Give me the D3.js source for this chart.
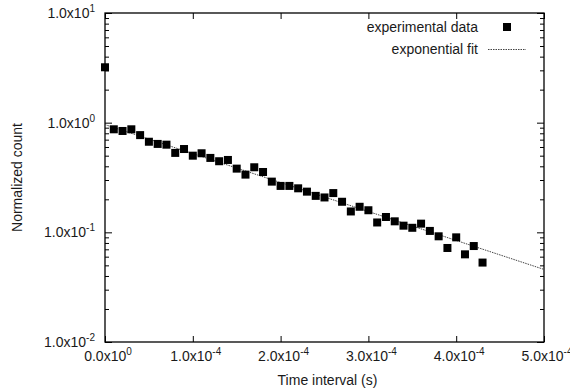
<!DOCTYPE html>
<html>
<head>
<meta charset="utf-8">
<script src="https://cdn.jsdelivr.net/npm/d3@7"></script>
<style>
  html, body { margin: 0; padding: 0; background: #fff; }
  svg { display: block; font-family: "Liberation Sans", Arial, sans-serif; }
</style>
</head>
<body>
<svg id="chart" width="570" height="389"></svg>
<script>
// ---- data ----
const timeValues = [0, 1e-5, 2e-5, 3e-5, 4e-5, 5e-5, 6e-5, 7e-5, 8e-5, 9e-5,
  1.0e-4, 1.1e-4, 1.2e-4, 1.3e-4, 1.4e-4, 1.5e-4, 1.6e-4, 1.7e-4, 1.8e-4, 1.9e-4,
  2.0e-4, 2.1e-4, 2.2e-4, 2.3e-4, 2.4e-4, 2.5e-4, 2.6e-4, 2.7e-4, 2.8e-4, 2.9e-4,
  3.0e-4, 3.1e-4, 3.2e-4, 3.3e-4, 3.4e-4, 3.5e-4, 3.6e-4, 3.7e-4, 3.8e-4, 3.9e-4,
  4.0e-4, 4.1e-4, 4.2e-4, 4.3e-4];
const countValues = [3.2, 0.87, 0.84, 0.87, 0.77, 0.67, 0.64, 0.63, 0.53, 0.575,
  0.50, 0.526, 0.477, 0.445, 0.457, 0.381, 0.336, 0.392, 0.355, 0.29,
  0.265, 0.265, 0.252, 0.235, 0.215, 0.208, 0.228, 0.19, 0.155, 0.171,
  0.159, 0.123, 0.138, 0.126, 0.115, 0.11, 0.12, 0.103, 0.092, 0.072,
  0.09, 0.063, 0.075, 0.053];
const fitTime = [0, 5e-4];
const fitCount = [0.96, 0.0459];
const xTickValues = [0, 1e-4, 2e-4, 3e-4, 4e-4, 5e-4];
const xTickMantissa = ["0.0", "1.0", "2.0", "3.0", "4.0", "5.0"];
const xTickExponent = ["0", "-4", "-4", "-4", "-4", "-4"];
const yTickValues = [0.01, 0.1, 1, 10];
const yTickExponent = ["-2", "-1", "0", "1"];
const seriesNames = ["experimental data", "exponential fit"];
const axisTitles = ["Time interval (s)", "Normalized count"];

// ---- layout ----
const svg = d3.select("#chart");
const L = 105, R = 544, T = 13, B = 342;
const x = d3.scaleLinear().domain([0, 5e-4]).range([L, R]);
const y = d3.scaleLog().domain([0.01, 10]).range([B, T]);
const fontSize = 14;

// minor ticks
const minorVals = [];
[0.01, 0.1, 1].forEach(d => { for (let k = 2; k <= 9; k++) minorVals.push(d * k); });

// left axis
const yAxisL = svg.append("g").attr("transform", `translate(${L},0)`)
  .call(d3.axisLeft(y).tickValues(yTickValues).tickSize(-7).tickFormat(""));
const yAxisLm = svg.append("g").attr("transform", `translate(${L},0)`)
  .call(d3.axisLeft(y).tickValues(minorVals).tickSize(-4).tickFormat(""));
const yAxisR = svg.append("g").attr("transform", `translate(${R},0)`)
  .call(d3.axisRight(y).tickValues(yTickValues).tickSize(-7).tickFormat(""));
const yAxisRm = svg.append("g").attr("transform", `translate(${R},0)`)
  .call(d3.axisRight(y).tickValues(minorVals).tickSize(-4).tickFormat(""));
const xAxisB = svg.append("g").attr("transform", `translate(0,${B})`)
  .call(d3.axisBottom(x).tickValues(xTickValues).tickSize(-6).tickFormat(""));
const xAxisT = svg.append("g").attr("transform", `translate(0,${T})`)
  .call(d3.axisTop(x).tickValues(xTickValues).tickSize(-6).tickFormat(""));
[yAxisL, yAxisLm, yAxisR, yAxisRm, xAxisB, xAxisT].forEach(g => {
  g.select(".domain").remove();
  g.selectAll("line").attr("stroke", "#000").attr("stroke-width", 1);
});

// frame
svg.append("rect").attr("x", L).attr("y", T).attr("width", R - L).attr("height", B - T)
  .attr("fill", "none").attr("stroke", "#000").attr("stroke-width", 1.3);

// y tick labels
yTickValues.forEach((v, i) => {
  const t = svg.append("text").attr("x", L - 10).attr("y", y(v) + 5)
    .attr("text-anchor", "end").attr("font-size", fontSize).attr("fill", "#1a1a1a");
  t.append("tspan").text("1.0x10");
  t.append("tspan").attr("dy", -6).attr("font-size", 10).text(yTickExponent[i]);
});

// x tick labels
xTickValues.forEach((v, i) => {
  const t = svg.append("text").attr("x", x(v) + 3).attr("y", B + 19)
    .attr("text-anchor", "middle").attr("font-size", fontSize).attr("fill", "#1a1a1a");
  t.append("tspan").text(xTickMantissa[i] + "x10");
  t.append("tspan").attr("dy", -6).attr("font-size", 10).text(xTickExponent[i]);
});

// axis titles
svg.append("text").attr("x", (L + R) / 2 + 3).attr("y", 385)
  .attr("text-anchor", "middle").attr("font-size", fontSize).attr("fill", "#1a1a1a")
  .text(axisTitles[0]);
svg.append("text").attr("transform", `translate(22,${(T + B) / 2}) rotate(-90)`)
  .attr("text-anchor", "middle").attr("font-size", fontSize).attr("fill", "#1a1a1a")
  .text(axisTitles[1]);

// clip
svg.append("clipPath").attr("id", "clip").append("rect")
  .attr("x", L).attr("y", T).attr("width", R - L).attr("height", B - T);

// fit line
const fitData = fitTime.map((t, i) => [t, fitCount[i]]);
svg.append("path").datum(fitData).attr("clip-path", "url(#clip)")
  .attr("d", d3.line().x(d => x(d[0])).y(d => y(d[1])))
  .attr("fill", "none").attr("stroke", "#444").attr("stroke-width", 1)
  .attr("stroke-dasharray", "1.5,1");

// points
const pts = timeValues.map((t, i) => [t, countValues[i]]);
const s = 8;
svg.append("g").selectAll("rect").data(pts).join("rect")
  .attr("x", d => x(d[0]) - s / 2).attr("y", d => y(d[1]) - s / 2)
  .attr("width", s).attr("height", s).attr("fill", "#000");

// legend
svg.append("text").attr("x", 478).attr("y", 32).attr("text-anchor", "end")
  .attr("font-size", fontSize).attr("fill", "#1a1a1a").text(seriesNames[0]);
svg.append("rect").attr("x", 503).attr("y", 23).attr("width", s).attr("height", s).attr("fill", "#000");
svg.append("text").attr("x", 478).attr("y", 54).attr("text-anchor", "end")
  .attr("font-size", fontSize).attr("fill", "#1a1a1a").text(seriesNames[1]);
svg.append("line").attr("x1", 488).attr("x2", 526).attr("y1", 49.5).attr("y2", 49.5)
  .attr("stroke", "#444").attr("stroke-width", 1).attr("stroke-dasharray", "1.5,1");
</script>
</body>
</html>
